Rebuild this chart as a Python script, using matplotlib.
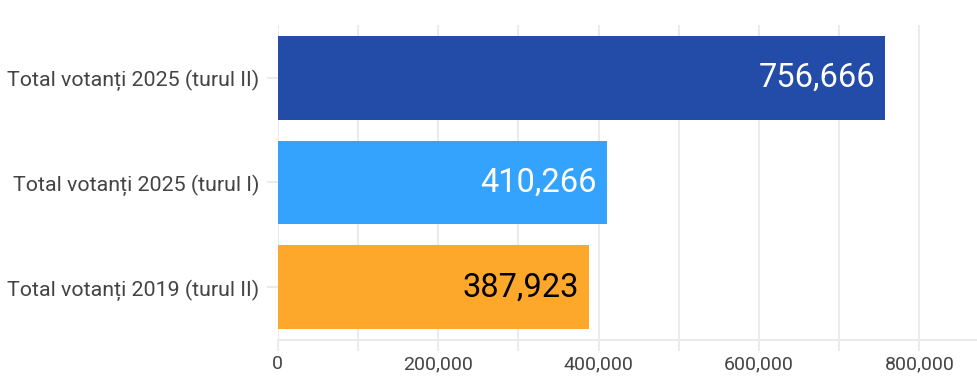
import matplotlib.pyplot as plt
from matplotlib.ticker import FuncFormatter, MultipleLocator

# Data
categories = ["Total votanți 2019 (turul II)", "Total votanți 2025 (turul I)", "Total votanți 2025 (turul II)"]
values = [387923, 410266, 756666]
colors = ["#FDA82A", "#33A3FD", "#234CA8"]
text_colors = ["black", "white", "white"]

plt.rcParams['font.family'] = ['Roboto', 'DejaVu Sans']

fig = plt.figure(figsize=(9.78, 3.92), dpi=100)
ax = fig.add_axes([0.284, 0.133, 0.716, 0.803])

ypos = range(len(categories))
bars = ax.barh(ypos, values, height=0.8, color=colors, zorder=3)

# value labels inside the bar ends
for y, v, tc in zip(ypos, values, text_colors):
    ax.annotate(f"{v:,}", xy=(v, y), xytext=(-7, 0), textcoords="offset points",
                ha="right", va="center", fontsize=23.5, color=tc, zorder=4)

ax.set_xlim(0, 873000)
ax.set_ylim(-0.5, 2.5)
ax.set_yticks(list(ypos))
ax.set_yticklabels(categories, fontsize=15.4, color="#444444")
ax.xaxis.set_major_locator(MultipleLocator(200000))
ax.xaxis.set_minor_locator(MultipleLocator(100000))
ax.xaxis.set_major_formatter(FuncFormatter(lambda x, p: f"{int(x):,}"))
ax.tick_params(axis="x", which="both", length=8, color="#EBEBEB", width=1.5,
               labelsize=14, labelcolor="#444444", pad=3)
ax.tick_params(axis="y", length=8, color="#EBEBEB", width=1.5, pad=5)

ax.grid(axis="x", which="both", color="#EBEBEB", linewidth=1.5, zorder=0)
for s in ["top", "right", "left"]:
    ax.spines[s].set_visible(False)
ax.spines["bottom"].set_color("#EBEBEB")
ax.spines["bottom"].set_linewidth(1.5)

fig.savefig("out.png", dpi=100)
